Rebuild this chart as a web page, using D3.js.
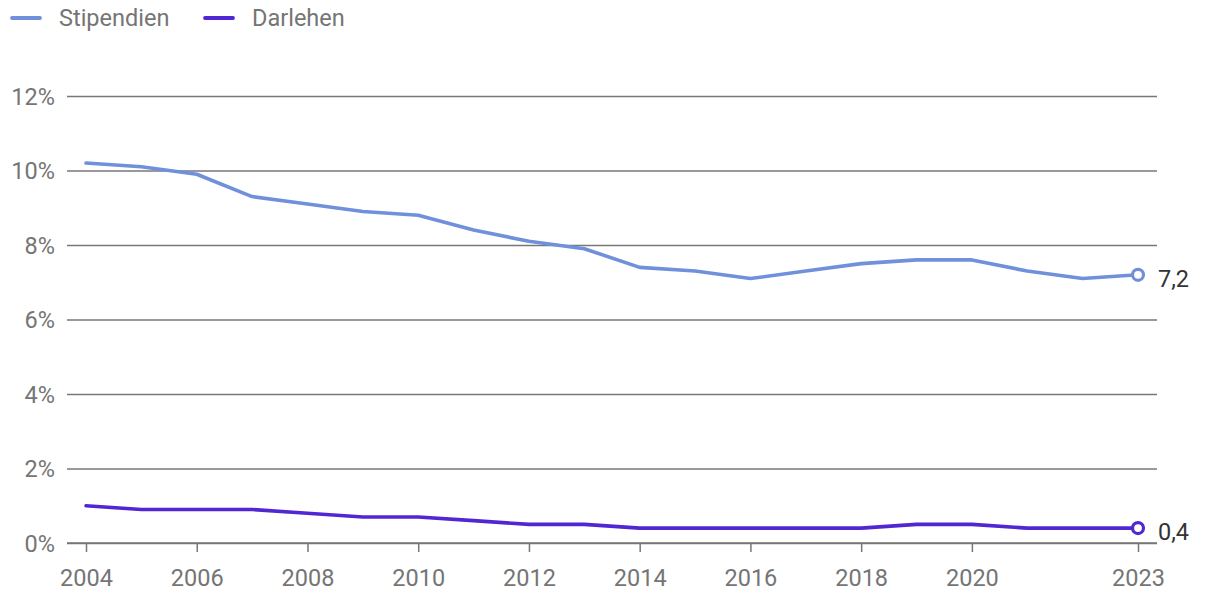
<!DOCTYPE html>
<html><head><meta charset="utf-8">
<script src="https://cdn.jsdelivr.net/npm/d3@7"></script>
<style>body{margin:0;background:#fff;}svg{display:block;font-family:Roboto,sans-serif;}</style>
</head><body><svg id="c" width="1220" height="604"></svg>
<script>
const years = [2004,2005,2006,2007,2008,2009,2010,2011,2012,2013,2014,2015,2016,2017,2018,2019,2020,2021,2022,2023];
const stipendien = [10.2,10.1,9.9,9.3,9.1,8.9,8.8,8.4,8.1,7.9,7.4,7.3,7.1,7.3,7.5,7.6,7.6,7.3,7.1,7.2];
const darlehen = [1.0,0.9,0.9,0.9,0.8,0.7,0.7,0.6,0.5,0.5,0.4,0.4,0.4,0.4,0.4,0.5,0.5,0.4,0.4,0.4];
const xTicks = [2004,2006,2008,2010,2012,2014,2016,2018,2020,2023];
const yTicks = [0,2,4,6,8,10,12];
const seriesNames = ["Stipendien","Darlehen"];
const colors = ["#7190db","#5126d3"];
const FS = "23.5px";

const svg = d3.select("#c");
const x = d3.scaleLinear().domain([2004,2023]).range([86,1138]);
const y = d3.scaleLinear().domain([0,12]).range([543,96]);

// gridlines
const yAxis = d3.axisLeft(y).tickValues(yTicks).tickSize(0).tickFormat(d=>d+"%");
const gy = svg.append("g").attr("transform","translate(67,0)").call(yAxis);
gy.select(".domain").remove();
gy.selectAll("text").attr("x",-12).attr("dy","0.35em").attr("fill","#757575").style("font-size",FS).style("font-family","Roboto");
gy.selectAll(".tick").append("line").attr("x1",0).attr("x2",1157-67).attr("stroke","#777").attr("stroke-width",1.3);

// x axis
const xAxis = d3.axisBottom(x).tickValues(xTicks).tickSize(9).tickSizeOuter(0).tickFormat(d=>String(d));
const gx = svg.append("g").attr("transform","translate(0,543)").call(xAxis);
gx.select(".domain").remove();
gx.append("line").attr("x1",67).attr("x2",1157).attr("stroke","#777").attr("stroke-width",1.5);
gx.selectAll(".tick line").attr("stroke","#777").attr("stroke-width",1.5);
gx.selectAll(".tick text").attr("y",26).attr("dy","0.71em").attr("fill","#757575").style("font-size",FS).style("font-family","Roboto");

const line = d3.line().x((d,i)=>x(years[i])).y(d=>y(d));
[stipendien,darlehen].forEach((s,k)=>{
  svg.append("path").datum(s).attr("d",line).attr("fill","none").attr("stroke",colors[k]).attr("stroke-width",3.6).attr("stroke-linejoin","round").attr("stroke-linecap","round");
  const last = s[s.length-1];
  svg.append("circle").attr("cx",x(years[years.length-1])).attr("cy",y(last)).attr("r",5.5).attr("fill","#fff").attr("stroke",colors[k]).attr("stroke-width",3.2);
  svg.append("text").attr("x",x(years[years.length-1])+20).attr("y",y(last)).attr("dy","0.5em").attr("fill","#333").style("font-size",FS).text(String(last).replace(".",","));
});

// legend
const legX = [12,205];
seriesNames.forEach((n,k)=>{
  svg.append("line").attr("x1",legX[k]).attr("x2",legX[k]+28).attr("y1",18).attr("y2",18).attr("stroke",colors[k]).attr("stroke-width",3.8).attr("stroke-linecap","round");
  svg.append("text").attr("x",legX[k]+47).attr("y",18).attr("dy","0.35em").attr("fill","#757575").style("font-size",FS).text(n);
});
</script></body></html>
